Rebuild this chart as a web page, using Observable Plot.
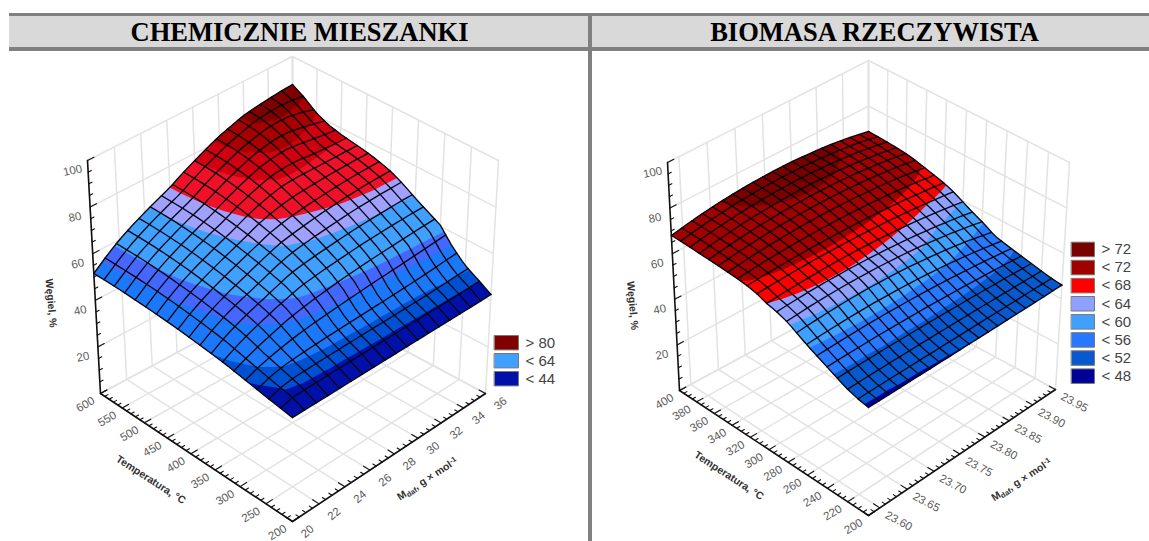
<!DOCTYPE html>
<html lang="pl"><head><meta charset="utf-8">
<script src="https://cdn.jsdelivr.net/npm/d3@7"></script>
<script src="https://cdn.jsdelivr.net/npm/@observablehq/plot@0.6"></script>
<style>
html,body{margin:0;padding:0;background:#fff;width:1149px;height:541px;overflow:hidden}
#page{position:relative;width:1149px;height:541px}
.head{position:absolute;top:13px;height:38px;box-sizing:border-box;background:#d9d9d9;border-top:3px solid #808080;border-bottom:4px solid #808080;
 font:bold 26.5px "Liberation Serif",serif;color:#000;text-align:center;line-height:32px}
#divider{position:absolute;left:588px;top:13px;width:4px;height:528px;background:#808080}
.pane{position:absolute;top:51px}
</style></head><body><div id="page">
<div class="head" style="left:9px;width:579px;padding-left:2px">CHEMICZNIE MIESZANKI</div>
<div class="head" style="left:592px;width:557px;padding-left:8px">BIOMASA RZECZYWISTA</div>
<div id="divider"></div>
<div class="pane" id="left" style="left:0"></div>
<div class="pane" id="right" style="left:592px"></div>
</div>
<script>
const chemZ = [
[42.4,42.4,42.4,42.4,42.4,42.4,42.4,42.4,42.4,42.4,42.4,42.4,42.4,42.4,42.4,42.4,42.5],
[43.3,45,45,45.1,45.2,45.2,45.3,45.3,45.4,45.4,45.5,45.5,45.6,45.6,45.7,45.8,45.9],
[44.2,46,47,47.1,47.3,47.4,47.5,47.6,47.7,47.7,47.8,47.9,48,48.2,48.5,48.8,49],
[45.2,47.3,48.6,49.3,49.8,50.2,50.5,50.8,51,51.3,51.6,51.9,52.2,52.6,53,53.5,54],
[46.2,48.6,50.3,52,53.5,54.5,55.3,56,56.8,57.4,58,58.4,58.8,59.2,59.6,60,60.5],
[47.2,50,52.5,54.5,56.6,58,59.4,60.2,60.9,61.5,62,62.5,62.8,63.1,63.3,63.5,63.5],
[47.9,51.4,54.1,56.3,58.2,60.3,62.3,63.1,63.8,64.4,65,65.5,65.8,66.1,66.3,66.5,66.5],
[48.6,52.3,55.3,57.6,59.7,61.8,64,65.6,66.5,67.3,67.9,68.5,69,69.3,69.6,69.7,69.8],
[49.2,53.1,56.2,58.8,61,63.3,65.4,67.4,68.5,69.4,70.3,70.9,71.5,71.9,72.3,72.4,72.5],
[49.8,53.8,57.1,59.8,62.2,64.5,66.7,69,70.5,71.5,72.2,72.8,73.3,73.7,74,74.1,74.2],
[50.2,54.4,57.9,60.7,63.2,65.6,67.9,70.4,72.2,73.6,74.5,74.8,75.1,75.3,75.4,75.5,75.5],
[50.6,54.9,58.5,61.5,64.1,66.5,68.8,71.5,73.7,75.5,76.8,77,76.8,76.6,76.5,76.4,76.4],
[50.9,55.3,59.1,62.1,64.8,67.3,69.6,72.5,74.9,77,78.7,79.4,79.5,78.5,77.9,77.4,77.3],
[51.2,55.6,59.5,62.6,65.3,67.9,70.2,73.2,75.8,78.1,80.1,81.4,82.1,82,80.8,79.8,78.6],
[51.4,55.8,59.8,62.9,65.7,68.3,70.6,73.8,76.5,78.9,81.2,82.7,84,84.4,84,82.7,81],
[51.5,55.9,59.9,63.1,65.9,68.5,70.9,74.1,76.9,79.4,81.8,83.5,85.1,85.9,86.2,85.9,85],
[51.5,56,60,63.2,66,68.6,71,74.2,77,79.6,82,83.8,85.5,86.4,87.1,87.7,88]];
const bioZ = [
[45,45,45,45.1,45.1,45.1,45.2,45.2,45.3,45.3,45.4,45.4,45.5,45.6,45.6,45.7,45.8,45.9,46],
[46,46.1,46.1,46.2,46.2,46.3,46.3,46.3,46.4,46.4,46.4,46.5,46.5,46.5,46.5,46.6,46.6,46.6,46.6],
[47.6,47.7,47.8,47.8,47.9,47.9,48,48,48,48,48,48,48,47.9,47.9,47.8,47.8,47.7,47.6],
[50,50.1,50.1,50.1,50.2,50.2,50.1,50.1,50.1,50,49.9,49.8,49.7,49.6,49.4,49.3,49.1,48.9,48.7],
[52.3,52.5,52.6,52.7,52.8,52.8,52.8,52.7,52.6,52.5,52.3,52.1,51.9,51.6,51.3,51,50.6,50.2,49.7],
[54.6,54.9,55.1,55.2,55.4,55.4,55.4,55.3,55.2,55,54.8,54.5,54.1,53.7,53.2,52.7,52.1,51.5,50.8],
[57.2,57.7,58,58.3,58.5,58.6,58.7,58.6,58.4,58.2,57.9,57.4,56.9,56.3,55.6,54.9,54,53,52],
[60,60.4,60.8,61,61.2,61.3,61.3,61.2,61.1,60.8,60.5,60.1,59.6,59,58.3,57.6,56.7,55.8,54.8],
[61.8,62.1,62.4,62.6,62.7,62.7,62.7,62.6,62.4,62.2,61.9,61.5,61.1,60.6,60,59.4,58.6,57.9,57],
[63,63.4,63.7,63.9,64.1,64.2,64.3,64.3,64.2,64,63.8,63.5,63.1,62.7,62.2,61.6,61,60.3,59.5],
[64.8,65.1,65.3,65.5,65.6,65.7,65.7,65.7,65.6,65.5,65.3,65.1,64.8,64.5,64.1,63.6,63.1,62.6,62],
[65.8,66.2,66.5,66.7,66.9,67,67.1,67.1,67.1,67,66.9,66.7,66.4,66.1,65.8,65.4,64.9,64.4,63.8],
[66.3,66.8,67.3,67.7,68,68.2,68.4,68.5,68.5,68.5,68.4,68.2,68,67.7,67.3,66.8,66.3,65.7,65],
[66.7,67.4,68.1,68.6,69,69.4,69.7,69.9,70,70,69.9,69.8,69.5,69.2,68.8,68.3,67.7,67,66.2],
[67,67.8,68.5,69.1,69.7,70.1,70.4,70.7,70.8,70.9,70.9,70.8,70.6,70.3,69.9,69.4,68.8,68.2,67.4],
[67.3,68.2,69,69.7,70.3,70.7,71.1,71.4,71.6,71.7,71.7,71.6,71.4,71.1,70.6,70.1,69.5,68.8,68],
[67.6,68.6,69.4,70.1,70.8,71.3,71.7,72,72.2,72.3,72.3,72.2,72,71.6,71.2,70.7,70,69.3,68.4],
[67.9,68.9,69.7,70.5,71.1,71.7,72.1,72.4,72.6,72.7,72.7,72.6,72.3,72,71.6,71,70.4,69.6,68.7],
[68,69,69.9,70.7,71.4,71.9,72.3,72.7,72.9,73,73,72.9,72.6,72.3,71.9,71.3,70.6,69.8,68.9]];

const chemTempTicks = [200,250,300,350,400,450,500,550,600];
const chemMassTicks = [20,22,24,26,28,30,32,34,36];
const bioTempTicks = [200,220,240,260,280,300,320,340,360,380,400];
const bioMassTicks = [23.60,23.65,23.70,23.75,23.80,23.85,23.90,23.95];
const carbonTicks = [0,20,40,60,80,100];

const chemLegendLabels = ["> 80","< 64","< 44"];
const chemLegendValues = [90,64,40];
const bioLegendLabels = ["> 72","< 72","< 68","< 64","< 60","< 56","< 52","< 48"];
const bioLegendValues = [75,68,64.5,61,57,52,47,40];

const chemLimits = [45.5,48,54.5,58.5,67,71,77,81,85];
const chemColors = ["#0010a8","#0050d4","#1c78fa","#4468ff","#3fa0ff","#a0a0ff","#f01028","#d00010","#a80000","#800000"];
const bioLimits = [45.35,50,55,59.7,63,66,71.5];
const bioColors = ["#000098","#0858d0","#2878ff","#3fa0ff","#8fa0ff","#ff0000","#a00000","#7a0000"];

// ---------- box projection
function quad(F,L,B,R){ // (u,v) in unit square -> plane quad (perspective)
  const sx=F[0]-L[0]+B[0]-R[0], sy=F[1]-L[1]+B[1]-R[1];
  const dx1=L[0]-B[0], dx2=R[0]-B[0], dy1=L[1]-B[1], dy2=R[1]-B[1];
  const den=dx1*dy2-dx2*dy1;
  const g=(sx*dy2-dx2*sy)/den, h=(dx1*sy-sx*dy1)/den;
  const a=L[0]-F[0]+g*L[0], b=R[0]-F[0]+h*R[0], d=L[1]-F[1]+g*L[1], e=R[1]-F[1]+h*R[1];
  return (u,v)=>{const w=1+g*u+h*v; return [(F[0]+a*u+b*v)/w,(F[1]+d*u+e*v)/w];};
}
function makeChart(o){
  const floor=quad(...o.floor), top=quad(...o.top);
  const P=(u,v,z)=>{const p=floor(u,v),q=top(u,v),t=z/100; return [p[0]+(q[0]-p[0])*t-o.ox,p[1]+(q[1]-p[1])*t-51];};
  const uOf=t=>(t-o.tDomain[0])/(o.tDomain[1]-o.tDomain[0]);
  const vOf=m=>(m-o.mDomain[0])/(o.mDomain[1]-o.mDomain[0]);
  const Z=o.z, nu=Z.length, nv=Z[0].length;
  const zAt=(x,y)=>{const i=Math.min(Math.floor(x),nu-2),j=Math.min(Math.floor(y),nv-2),a=x-i,b=y-j;
    return Z[i][j]*(1-a)*(1-b)+Z[i+1][j]*a*(1-b)+Z[i][j+1]*(1-a)*b+Z[i+1][j+1]*a*b;};
  const seg=(rows,id,pts)=>pts.forEach(p=>rows.push({id,x:p[0],y:p[1]}));

  // walls and floor grid
  const walls=[];
  carbonTicks.forEach(z=>{seg(walls,"l"+z,[P(1,0,z),P(1,1,z)]);seg(walls,"r"+z,[P(1,1,z),P(0,1,z)]);});
  o.mTicks.forEach(m=>{const v=vOf(m);seg(walls,"lv"+m,[P(1,v,0),P(1,v,100)]);seg(walls,"fm"+m,[P(0,v,0),P(1,v,0)]);});
  o.tTicks.forEach(t=>{const u=uOf(t);seg(walls,"rv"+t,[P(u,1,0),P(u,1,100)]);seg(walls,"ft"+t,[P(u,0,0),P(u,1,0)]);});
  seg(walls,"back",[P(1,1,0),P(1,1,100)]);

  // colour bands of the surface
  const flat=new Array(nu*nv);
  for(let j=0;j<nv;j++)for(let i=0;i<nu;i++)flat[i+j*nu]=Z[i][j];
  const maker=d3.contours().size([nu,nv]);
  const levels=[d3.min(flat)-5,...o.limits];
  const bands=levels.map(t=>{const c=maker.contour(flat,t);
    return {type:"MultiPolygon",value:t,coordinates:c.coordinates.map(poly=>poly.map(ring=>ring.map(([x,y])=>{
      const a=Math.max(0,Math.min(nu-1,x-.5)),b=Math.max(0,Math.min(nv-1,y-.5));
      return P(a/(nu-1),b/(nv-1),zAt(a,b));})))};});

  // mesh lines drawn over the surface
  const mesh=[], steps=(o.meshN)*2;
  for(let k=0;k<=o.meshN;k++){
    const along=[],across=[];
    for(let s=0;s<=steps;s++){
      const a=k/o.meshN, b=s/steps;
      along.push(P(a,b,zAt(a*(nu-1),b*(nv-1))));
      across.push(P(b,a,zAt(b*(nu-1),a*(nv-1))));
    }
    seg(mesh,"u"+k,along);seg(mesh,"v"+k,across);
  }

  // axes
  const axis=[];
  seg(axis,"az",[P(1,0,0),P(1,0,100)]);seg(axis,"at",[P(1,0,0),P(0,0,0)]);seg(axis,"am",[P(0,0,0),P(0,1,0)]);
  const ticks=[];
  for(let z=0;z<=100;z+=5){const len=z%20===0?.03:.015;seg(ticks,"z"+z,[P(1,0,z),P(1,len,z)]);}
  d3.range(o.tDomain[0],o.tDomain[1]+1e-6,o.tMinor).forEach((t,k)=>{const u=uOf(t),len=k%o.tEvery===0?.03:.015;seg(ticks,"t"+t,[P(u,0,0),P(u,len,0)]);});
  o.mMinor.forEach(m=>{const v=vOf(m),maj=o.mTicks.some(q=>Math.abs(q-m)<1e-6),len=maj?.03:.015;seg(ticks,"m"+m,[P(0,v,0),P(len,v,0)]);});

  const pts=(arr,f,lab)=>arr.map(d=>{const p=f(d);return {x:p[0],y:p[1],label:lab(d)};});
  const zLab=pts(carbonTicks.slice(1),z=>P(1,0,z),String);
  const tLab=pts(o.tTicks,t=>P(uOf(t),0,0),String);
  const mLab=pts(o.mTicks,m=>P(0,vOf(m),0),o.mFormat);
  const tp=P(.5,0,0), mp=P(0,.5,0), zp=P(1,0,50);

  // legend swatches
  const swatches=o.legendValues.map((value,k)=>{const x=o.legend[0]-o.ox,y=o.legend[1]-51+k*o.legend[3],w=o.legend[2],h=o.legend[3]-3.6;
    return {type:"Polygon",value,coordinates:[[[x,y],[x+w,y],[x+w,y+h],[x,y+h],[x,y]]],lx:x+w+7,ly:y+h/2,label:o.legendLabels[k]};});

  const sans="Liberation Sans, Arial, sans-serif";
  const lineOpt={x:"x",y:"y",z:"id",curve:"linear"};
  const txt=(d,opt)=>Plot.text(d,{x:"x",y:"y",text:"label",fontFamily:sans,fontSize:11.5,fill:"#5c5c5c",lineAnchor:"middle",textAnchor:"middle",...opt});
  const title=(p,s,opt)=>Plot.text([{x:p[0],y:p[1],label:s}],{x:"x",y:"y",text:"label",fontFamily:sans,fontSize:10.5,fontWeight:"bold",fill:"#333",lineAnchor:"middle",textAnchor:"middle",...opt});

  const svg=Plot.plot({
    width:o.width,height:490,margin:0,projection:d3.geoIdentity(),
    style:{background:"transparent"},
    color:{type:"threshold",domain:o.limits,range:o.colors},
    marks:[
      Plot.line(walls,{...lineOpt,stroke:"#e3e3e3",strokeWidth:1.5}),
      Plot.geo(bands,{geometry:d=>d,fill:d=>d.value,stroke:"none"}),
      Plot.line(mesh,{...lineOpt,stroke:"#08080e",strokeWidth:1.35}),
      Plot.line(axis,{...lineOpt,stroke:"#111",strokeWidth:1.6}),
      Plot.line(ticks,{...lineOpt,stroke:"#111",strokeWidth:1.1}),
      txt(zLab,{dx:-15,dy:10,rotate:-12}),
      txt(tLab,{dx:-15,dy:11,rotate:-30}),
      txt(mLab,{dx:o.mDx,dy:o.mDy,rotate:o.mRot}),
      title(tp,"Temperatura, °C",{dx:-40,dy:26,rotate:33}),
      title(mp,"Mdaf, g × mol-1",{dx:o.mtDx,dy:o.mtDy,rotate:-33}),
      title(zp,"Węgiel, %",{dx:o.ztDx,dy:o.ztDy,rotate:85}),
      Plot.geo(swatches,{geometry:d=>d,fill:d=>d.value,stroke:"#777",strokeWidth:1}),
      Plot.text(swatches,{x:"lx",y:"ly",text:"label",fontFamily:sans,fontSize:15,fill:"#444",textAnchor:"start",lineAnchor:"middle"})
    ]
  });
  // sub- and superscript of the mass axis title
  d3.select(svg).selectAll("text").filter(function(){return this.textContent==="Mdaf, g × mol-1";})
    .each(function(){this.textContent="";const t=d3.select(this);
      t.append("tspan").text("M");
      t.append("tspan").attr("dy",2).attr("font-size",7.5).text("daf");
      t.append("tspan").attr("dy",-2).text(", g × mol");
      t.append("tspan").attr("dy",-3).attr("font-size",7.5).text("-1");});
  return svg;
}

document.getElementById("left").append(makeChart({
  ox:0,width:588,z:chemZ,limits:chemLimits,colors:chemColors,meshN:18,
  floor:[[292,521],[100,393],[292,290],[485,393]],
  top:[[292,276],[87,160],[292,56],[498,160]],
  tDomain:[200,600],mDomain:[20,36],tTicks:chemTempTicks,mTicks:chemMassTicks,tMinor:10,tEvery:5,
  mMinor:d3.range(20,36.01,.5),mFormat:String,mDx:15,mDy:10,mRot:-40,
  mtDx:33,mtDy:25,ztDx:-43,ztDy:26,
  legend:[494,335,24,18],legendLabels:chemLegendLabels,legendValues:chemLegendValues
}));
document.getElementById("right").append(makeChart({
  ox:592,width:557,z:bioZ,limits:bioLimits,colors:bioColors,meshN:20,
  floor:[[868,515],[679,390],[868,288],[1055,389]],
  top:[[868,275],[667,162],[868,60],[1069,162]],
  tDomain:[200,400],mDomain:[23.58,23.95],tTicks:bioTempTicks,mTicks:bioMassTicks,tMinor:5,tEvery:4,
  mMinor:d3.range(23.58,23.955,.01),mFormat:d=>d.toFixed(2),mDx:19,mDy:13,mRot:28,
  mtDx:54,mtDy:31,ztDx:-41,ztDy:29,
  legend:[1071,241.7,23,18.1],legendLabels:bioLegendLabels,legendValues:bioLegendValues
}));
</script></body></html>
